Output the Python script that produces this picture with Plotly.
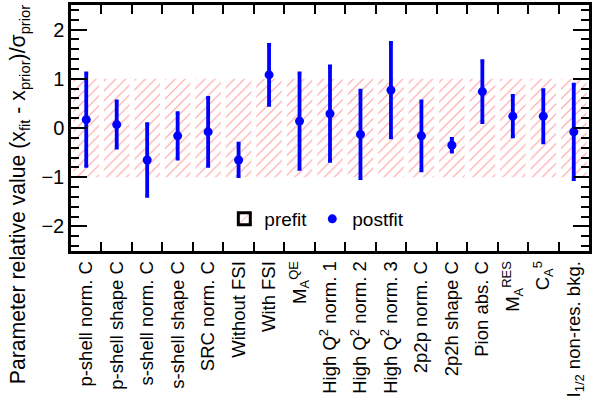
import plotly.graph_objects as go

# Fit parameters (tick labels) and postfit results in units of prior sigma
params = [
    "p-shell norm. C", "p-shell shape C", "s-shell norm. C", "s-shell shape C",
    "SRC norm. C", "Without FSI", "With FSI", "M<sub>A</sub><sup>QE</sup>",
    "High Q<sup>2</sup> norm. 1", "High Q<sup>2</sup> norm. 2", "High Q<sup>2</sup> norm. 3",
    "2p2p norm. C", "2p2h shape C", "Pion abs. C", "M<sub>A</sub><sup>RES</sup>",
    "C<sub>A</sub><sup>5</sup>", "I<sub>1/2</sub> non-res. bkg.",
]
postfit = [0.17, 0.07, -0.65, -0.16, -0.08, -0.65, 1.08, 0.14, 0.29,
           -0.13, 0.77, -0.16, -0.35, 0.74, 0.24, 0.24, -0.08]
postfit_err = [0.94, 0.47, 0.73, 0.46, 0.69, 0.33, 0.61, 0.97, 0.96,
               0.89, 0.96, 0.70, 0.13, 0.62, 0.41, 0.53, 0.96]
# Prior band: every parameter spans -1..+1 sigma before the fit
prior_low = [-1.0] * len(params)
prior_high = [1.0] * len(params)

font = "Liberation Sans, Arial, Helvetica, sans-serif"
hatch = dict(shape="/", fgcolor="rgba(255,30,30,0.85)", bgcolor="rgba(0,0,0,0)",
             size=7, solidity=0.16, fillmode="overlay")

fig = go.Figure()
fig.add_trace(go.Bar(
    x=params, y=[h - l for h, l in zip(prior_high, prior_low)], base=prior_low,
    width=0.84, marker=dict(color="rgba(0,0,0,0)", line=dict(width=0), pattern=hatch),
    showlegend=False, hoverinfo="skip",
))
# legend entry for the prior band (outlined swatch)
fig.add_trace(go.Bar(
    x=[params[0]], y=[None], name="prefit",
    marker=dict(color="rgba(0,0,0,0)", line=dict(color="black", width=3), pattern=hatch),
))
fig.add_trace(go.Scatter(
    x=params, y=postfit, mode="markers", name="postfit",
    marker=dict(color="#0000ff", size=9),
    error_y=dict(type="data", array=postfit_err, color="#0000ff", thickness=3.8, width=2),
))

fig.update_layout(
    width=593, height=419,
    margin=dict(l=71, r=1, t=5, b=168),
    paper_bgcolor="white", plot_bgcolor="white",
    font=dict(family=font, size=18, color="black"),
    barmode="overlay",
    legend=dict(orientation="h", x=0.296, xanchor="left", y=0.13, yanchor="middle",
                bgcolor="rgba(0,0,0,0)", font=dict(size=19), itemwidth=30,
                traceorder="normal"),
    showlegend=True,
    annotations=[dict(
        text="Parameter relative value (x<sub>fit</sub> - x<sub>prior</sub>)/σ<sub>prior</sub>",
        textangle=-90, xref="paper", yref="paper", x=-0.1, y=1.012,
        xanchor="center", yanchor="top", showarrow=False, font=dict(size=21.2),
    )],
)
fig.update_xaxes(
    type="category", tickson="boundaries", ticks="inside", ticklen=9, tickwidth=2,
    tickcolor="black", showline=True, linecolor="black", linewidth=2.5, mirror="allticks",
    tickangle=-90, tickfont=dict(size=18.5), showgrid=False, range=[-0.5, 16.5],
)
fig.update_yaxes(
    range=[-2.5, 2.5], dtick=1, ticks="inside", ticklen=16, tickwidth=2, tickcolor="black",
    minor=dict(dtick=0.2, ticks="inside", ticklen=8, tickwidth=2, tickcolor="black"),
    showline=True, linecolor="black", linewidth=2.5, mirror="allticks",
    showgrid=False, zeroline=False, tickfont=dict(size=20),
)

fig.write_html("out.html")
